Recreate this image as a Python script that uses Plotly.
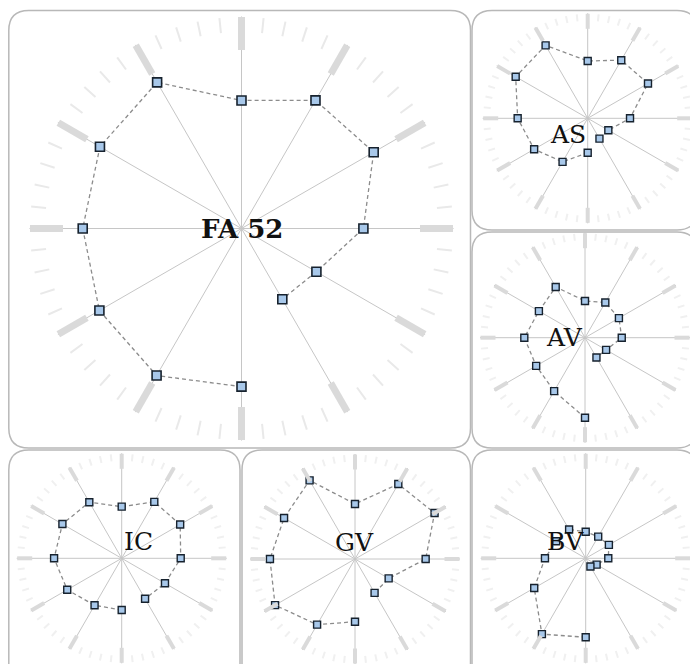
import plotly.graph_objects as go

W, H = 690, 656          # figure size (page adds an 8px body margin)
OFF = 8                  # screen offset of the figure

# Angles (degrees, clockwise from top); each series starts at 180 and runs clockwise to 150
ANGLES = [180, 210, 240, 270, 300, 330, 0, 30, 60, 90, 120, 150]

PANEL_NAMES = ["FA 52", "AS", "AV", "IC", "GV", "BV"]
fa52_r = [74.6, 80.1, 77.4, 74.9, 77.1, 79.6, 60.4, 69.8, 72.0, 57.5, 40.8, 38.5]
as_r = [32.8, 47.9, 58.9, 66.7, 79.2, 80.2, 54.6, 63.9, 66.3, 40.3, 22.7, 22.4]
av_r = [76.2, 58.8, 53.7, 57.8, 50.7, 55.8, 35.0, 38.7, 37.3, 35.0, 23.2, 21.8]
ic_r = [49.2, 51.7, 59.9, 64.4, 65.2, 61.7, 49.2, 62.1, 64.3, 56.2, 47.6, 44.5]
gv_r = [59.7, 72.2, 87.9, 81.0, 78.0, 86.5, 52.4, 82.5, 87.5, 67.3, 37.0, 37.3]
bv_r = [75.2, 83.4, 56.6, 38.8, 32.5, 31.6, 25.3, 23.8, 25.5, 21.5, 12.0, 9.0]
SERIES = [fa52_r, as_r, av_r, ic_r, gv_r, bv_r]

# layout (screen pixels): polar centre and outer radius; frame rectangle
CENTERS = [(241.5, 228.5, 212), (587.7, 118.3, 105), (585.0, 337.7, 105),
           (121.7, 558.3, 105), (355.0, 559.0, 105), (585.7, 558.3, 105)]
FRAMES = [(8.8, 10.5, 470.5, 448.0), (472.0, 10.5, 697.0, 230.0), (472.0, 232.0, 697.0, 448.0),
          (8.8, 450.0, 240.0, 700.0), (242.0, 450.0, 470.5, 700.0), (472.0, 450.0, 697.0, 700.0)]


def px(x):
    return (x - OFF) / W


def py(y):
    return 1 - (y - OFF) / H


def rounded_path(x0, y0, x1, y1, r=20):
    X0, X1 = px(x0), px(x1)
    Y0, Y1 = py(y0), py(y1)  # Y0 top (larger)
    rx, ry = r / W, r / H
    return (f"M {X0+rx},{Y0} L {X1-rx},{Y0} Q {X1},{Y0} {X1},{Y0-ry} "
            f"L {X1},{Y1+ry} Q {X1},{Y1} {X1-rx},{Y1} "
            f"L {X0+rx},{Y1} Q {X0},{Y1} {X0},{Y1+ry} "
            f"L {X0},{Y0-ry} Q {X0},{Y0} {X0+rx},{Y0} Z")


fig = go.Figure()
layout = {}
shapes = []
annotations = []

for i, (name, vals) in enumerate(zip(PANEL_NAMES, SERIES)):
    cx, cy, R = CENTERS[i]
    big = i == 0
    dom = dict(x=[px(cx - R), px(cx + R)], y=[py(cy + R), py(cy - R)])
    minor_key = f"polar{2*i+1}" if i > 0 else "polar"
    main_key = f"polar{2*i+2}"
    minor_sub = "polar" if i == 0 else f"polar{2*i+1}"
    main_sub = f"polar{2*i+2}"

    layout[minor_key] = dict(
        domain=dom, bgcolor="rgba(0,0,0,0)",
        radialaxis=dict(visible=False, range=[0, 100]),
        angularaxis=dict(rotation=90, direction="clockwise", dtick=6, showgrid=False,
                         showline=False, showticklabels=False, ticks="inside",
                         ticklen=15 if big else 7, tickwidth=2 if big else 1.5,
                         tickcolor="#e9e9e9" if big else "#f0f0f0"))
    layout[main_key] = dict(
        domain=dom, bgcolor="rgba(0,0,0,0)",
        radialaxis=dict(visible=False, range=[0, 100]),
        angularaxis=dict(rotation=90, direction="clockwise", dtick=30, showgrid=True,
                         gridcolor="#c6c6c6", gridwidth=1.2,
                         showline=False, showticklabels=False, ticks="inside",
                         ticklen=33 if big else 15, tickwidth=7 if big else 4,
                         tickcolor="#dadada"))

    # invisible anchor trace for the minor-tick polar
    fig.add_trace(go.Scatterpolar(r=[0], theta=[0], mode="markers",
                                  marker=dict(size=1, color="rgba(0,0,0,0)"),
                                  subplot=minor_sub, showlegend=False, hoverinfo="skip"))
    fig.add_trace(go.Scatterpolar(
        r=vals, theta=ANGLES, mode="lines+markers", subplot=main_sub, showlegend=False,
        line=dict(color="#8c8c8c", width=1.3, dash="4px,3px"),
        marker=dict(symbol="square", size=9 if big else 7, color="#a8c8ea",
                    line=dict(color="#17222e", width=1.6 if big else 1.4)),
        name=name))

    x0, y0, x1, y1 = FRAMES[i]
    shapes.append(dict(type="path", xref="paper", yref="paper",
                       path=rounded_path(x0, y0, x1, y1, 20),
                       line=dict(color="#b8b8b8", width=1.5), layer="below"))
    annotations.append(dict(x=px(cx), y=py(cy), xref="paper", yref="paper",
                            text=f"<b>{name}</b>" if big else name, showarrow=False,
                            font=dict(family="DejaVu Serif, serif",
                                      size=26 if big else 25, color="#111111")))

fig.update_layout(width=W, height=H, margin=dict(l=0, r=0, t=0, b=0),
                  paper_bgcolor="white", plot_bgcolor="white",
                  shapes=shapes, annotations=annotations, **layout)

fig.write_html("out.html")
